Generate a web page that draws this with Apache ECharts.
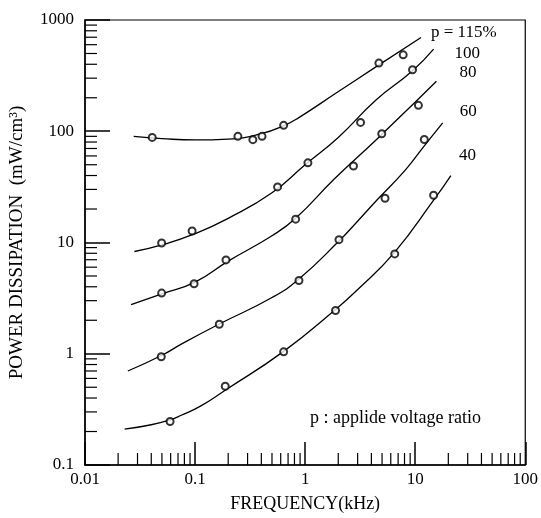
<!DOCTYPE html>
<html>
<head>
<meta charset="utf-8">
<script src="https://cdn.jsdelivr.net/npm/echarts@6/dist/echarts.min.js"></script>
<style>html,body{margin:0;background:#fff}#chart{width:541px;height:518px}</style>
</head>
<body>
<div id="chart"></div>
<script>
'use strict';
// fitted curves, [kHz, mW/cm3]
var line115 = [[0.0277, 90], [0.05, 86], [0.1, 83.5], [0.2, 85], [0.4, 95], [0.65, 113], [0.87, 132], [1.96, 224], [4.43, 381], [11.3, 695]];
var line100 = [[0.0281, 8.3], [0.05, 9.5], [0.1, 12], [0.2, 16.5], [0.5, 28], [1, 50], [2, 88], [4.43, 192], [9.46, 350], [14.7, 547]];
var line80 = [[0.0262, 2.77], [0.05, 3.45], [0.1, 4.4], [0.2, 6.8], [0.5, 11.5], [0.82, 16.5], [1.83, 37], [4.43, 84], [10.7, 195], [15.6, 281]];
var line60 = [[0.0245, 0.70], [0.05, 0.97], [0.075, 1.22], [0.166, 1.85], [0.5, 3.2], [0.879, 4.7], [2.03, 10.3], [2.94, 15.2], [4.43, 23.7], [8.16, 45], [12.1, 74], [17.8, 119]];
var line40 = [[0.0229, 0.21], [0.04, 0.23], [0.0593, 0.255], [0.075, 0.28], [0.113, 0.34], [0.188, 0.47], [0.638, 1.05], [1.89, 2.5], [2.94, 3.7], [6.52, 8.2], [14.7, 24], [21.1, 40]];

// measured points
var pts115 = [[0.0408, 88], [0.245, 90], [0.335, 84], [0.406, 90], [0.638, 113], [4.68, 410], [7.78, 486]];
var pts100 = [[0.0497, 9.9], [0.094, 12.7], [0.562, 31.6], [1.06, 52], [3.19, 120], [9.46, 357]];
var pts80 = [[0.0497, 3.51], [0.098, 4.26], [0.191, 6.97], [0.82, 16.2], [2.75, 48.7], [4.97, 95], [10.7, 171]];
var pts60 = [[0.0493, 0.94], [0.166, 1.84], [0.879, 4.55], [2.03, 10.6], [5.32, 25], [12.1, 84.4]];
var pts40 = [[0.0593, 0.246], [0.188, 0.51], [0.638, 1.04], [1.89, 2.45], [6.52, 7.9], [14.7, 26.6]];

var xTickLabels = ['0.01', '0.1', '1', '10', '100'];
var yTickLabels = ['0.1', '1', '10', '100', '1000'];
var minorSteps = [2, 3, 4, 5, 6, 7, 8, 9];
var xDecades = [0.01, 0.1, 1, 10];
var yDecades = [0.1, 1, 10, 100];

var xMinor = [], yMinor = [];
xDecades.forEach(function (d) { minorSteps.forEach(function (s) { xMinor.push([d * s, 0.1]); }); });
yDecades.forEach(function (d) { minorSteps.forEach(function (s) { yMinor.push([0.01, d * s]); }); });

var font = 'Liberation Serif, Times New Roman, serif';

function tickX(params, api) {
	var p = api.coord([api.value(0), api.value(1)]);
	return {type: 'line', shape: {x1: p[0], y1: p[1], x2: p[0], y2: p[1] - 12}, style: {stroke: '#000', lineWidth: 1.2}};
}
function tickY(params, api) {
	var p = api.coord([api.value(0), api.value(1)]);
	return {type: 'line', shape: {x1: p[0], y1: p[1], x2: p[0] + 12, y2: p[1]}, style: {stroke: '#000', lineWidth: 1.2}};
}

function curve(data, text, offset) {
	return {
		type: 'line', data: data, smooth: true, showSymbol: false, silent: true,
		lineStyle: {color: '#000', width: 1.3},
		endLabel: {show: true, formatter: text, offset: offset, color: '#000', fontSize: 17, fontFamily: font}
	};
}
function points(data) {
	return {
		type: 'scatter', data: data, symbol: 'emptyCircle', symbolSize: 7,
		itemStyle: {color: '#000', borderWidth: 1.2}, z: 3
	};
}

var myChart = echarts.init(document.getElementById('chart'));
var option = {
	animation: false,
	grid: {left: 81, right: 8, top: 20, bottom: 51, show: true, borderColor: '#000', borderWidth: 1.2},
	xAxis: {
		type: 'log', min: 0.01, max: 100,
		name: 'FREQUENCY(kHz)', nameLocation: 'middle', nameGap: 30,
		nameTextStyle: {color: '#000', fontSize: 18, fontFamily: font},
		axisLine: {lineStyle: {color: '#000', width: 1.5}},
		axisTick: {inside: true, length: 23, lineStyle: {color: '#000', width: 1.5}},
		axisLabel: {color: '#000', fontSize: 17, fontFamily: font, margin: 6,
			formatter: function (v, i) { return xTickLabels[i]; }},
		splitLine: {show: false}
	},
	yAxis: {
		type: 'log', min: 0.1, max: 1000,
		name: 'POWER DISSIPATION  (mW/cm³)', nameLocation: 'middle', nameGap: 58, nameRotate: 90,
		nameTextStyle: {color: '#000', fontSize: 19, fontFamily: font},
		axisLine: {lineStyle: {color: '#000', width: 1.5}},
		axisTick: {inside: true, length: 25, lineStyle: {color: '#000', width: 1.5}},
		axisLabel: {color: '#000', fontSize: 17, fontFamily: font, margin: 11,
			formatter: function (v, i) { return yTickLabels[i]; }},
		splitLine: {show: false}
	},
	graphic: [{
		type: 'text', left: 310, top: 409,
		style: {text: 'p : applide voltage ratio', fill: '#000', fontSize: 18, fontFamily: font}
	}],
	series: [
		curve(line115, 'p = 115%', [2, -5]),
		curve(line100, '100', [13, 4]),
		curve(line80, '80', [15, -9]),
		curve(line60, '60', [9, -11]),
		curve(line40, '40', [0, -20]),
		points(pts115), points(pts100), points(pts80), points(pts60), points(pts40),
		{type: 'custom', renderItem: tickX, data: xMinor, silent: true, clip: false},
		{type: 'custom', renderItem: tickY, data: yMinor, silent: true, clip: false}
	]
};
myChart.setOption(option);
</script>
</body>
</html>
